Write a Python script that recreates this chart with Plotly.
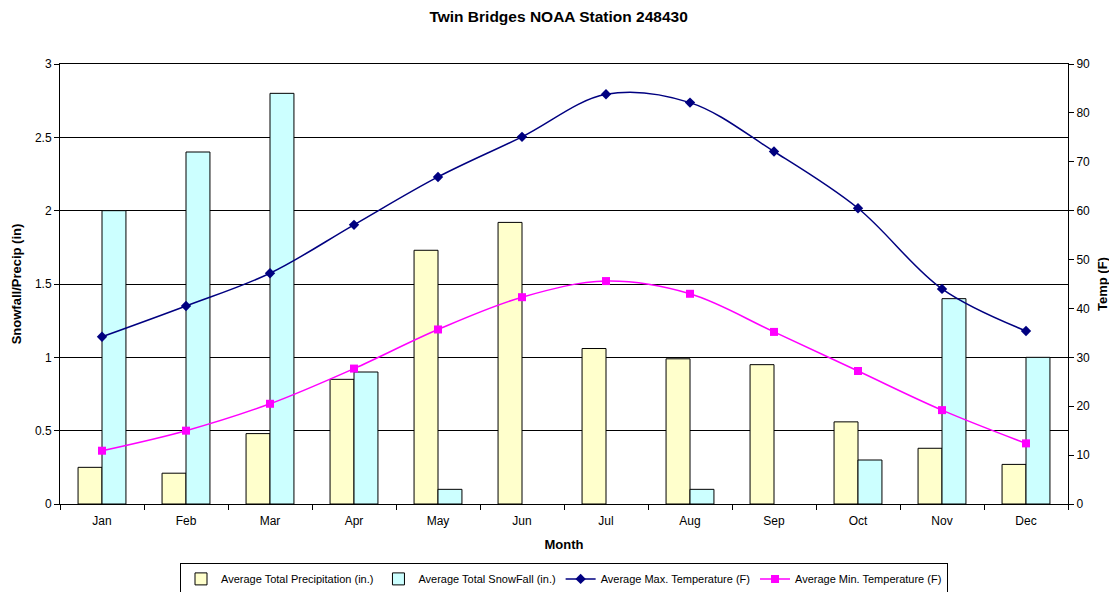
import plotly.graph_objects as go

months = ["Jan", "Feb", "Mar", "Apr", "May", "Jun", "Jul", "Aug", "Sep", "Oct", "Nov", "Dec"]
precip = [0.25, 0.21, 0.48, 0.85, 1.73, 1.92, 1.06, 0.99, 0.95, 0.56, 0.38, 0.27]
snowfall = [2.0, 2.4, 2.8, 0.9, 0.1, 0.0, 0.0, 0.1, 0.0, 0.3, 1.4, 1.0]
max_temp = [34.2, 40.5, 47.2, 57.1, 66.9, 75.1, 83.8, 82.1, 72.1, 60.5, 44.0, 35.4]
min_temp = [10.9, 15.0, 20.5, 27.7, 35.7, 42.3, 45.6, 43.0, 35.2, 27.2, 19.2, 12.4]

font = "Liberation Sans, Arial, sans-serif"

snow_line_w = [1 if v > 0 else 0 for v in snowfall]

fig = go.Figure()
fig.add_trace(go.Bar(x=months, y=precip, name="Average Total Precipitation (in.)",
                     marker=dict(color="#FFFFCC", line=dict(color="#000000", width=1))))
fig.add_trace(go.Bar(x=months, y=snowfall, name="Average Total SnowFall (in.)",
                     marker=dict(color="#CCFFFF", line=dict(color="#000000", width=snow_line_w))))
fig.add_trace(go.Scatter(x=months, y=max_temp, name="Average Max. Temperature (F)", yaxis="y2",
                         mode="lines+markers", line=dict(color="#000080", width=1.5, shape="spline", smoothing=1),
                         marker=dict(symbol="diamond", size=8, color="#000080")))
fig.add_trace(go.Scatter(x=months, y=min_temp, name="Average Min. Temperature (F)", yaxis="y2",
                         mode="lines+markers", line=dict(color="#FF00FF", width=1.5, shape="spline", smoothing=1),
                         marker=dict(symbol="square", size=8, color="#FF00FF")))

fig.update_layout(
    width=1109, height=584,
    margin=dict(l=52, r=49, t=56, b=88, autoexpand=False),
    paper_bgcolor="white", plot_bgcolor="white",
    font=dict(family=font, size=12, color="black"),
    title=dict(text="<b>Twin Bridges NOAA Station 248430</b>", x=0.4965, xanchor="center", y=0.986, yanchor="middle",
               font=dict(size=15.5)),
    barmode="group", bargap=0.43, bargroupgap=0,
    xaxis=dict(type="category", range=[-0.5, 11.5], showline=True, linecolor="black", linewidth=1, mirror=True,
               ticks="outside", ticklen=5, tickcolor="black", tickson="boundaries", automargin=False,
               ticklabelstandoff=6,
               title=dict(text="<b>Month</b>", font=dict(size=13), standoff=12), tickfont=dict(size=12)),
    yaxis=dict(range=[0, 3], dtick=0.5, showline=True, linecolor="black", linewidth=1, automargin=False,
               ticks="outside", ticklen=5, tickcolor="black", showgrid=True, gridcolor="black", gridwidth=1,
               zeroline=False,
               title=dict(text="<b>Snowfall/Precip (in)</b>", font=dict(size=13), standoff=10)),
    yaxis2=dict(range=[0, 90], dtick=10, overlaying="y", side="right", showline=True, linecolor="black",
                linewidth=1, ticks="outside", ticklen=5, tickcolor="black", showgrid=False, zeroline=False,
                automargin=False,
                title=dict(text="<b>Temp (F)</b>", font=dict(size=13), standoff=8)),
    legend=dict(orientation="h", x=0.5, xanchor="center", y=-0.135, yanchor="top",
                bordercolor="black", borderwidth=1, font=dict(size=11), itemwidth=30,
                tracegroupgap=0),
    showlegend=True,
)

fig.write_html("out.html")
